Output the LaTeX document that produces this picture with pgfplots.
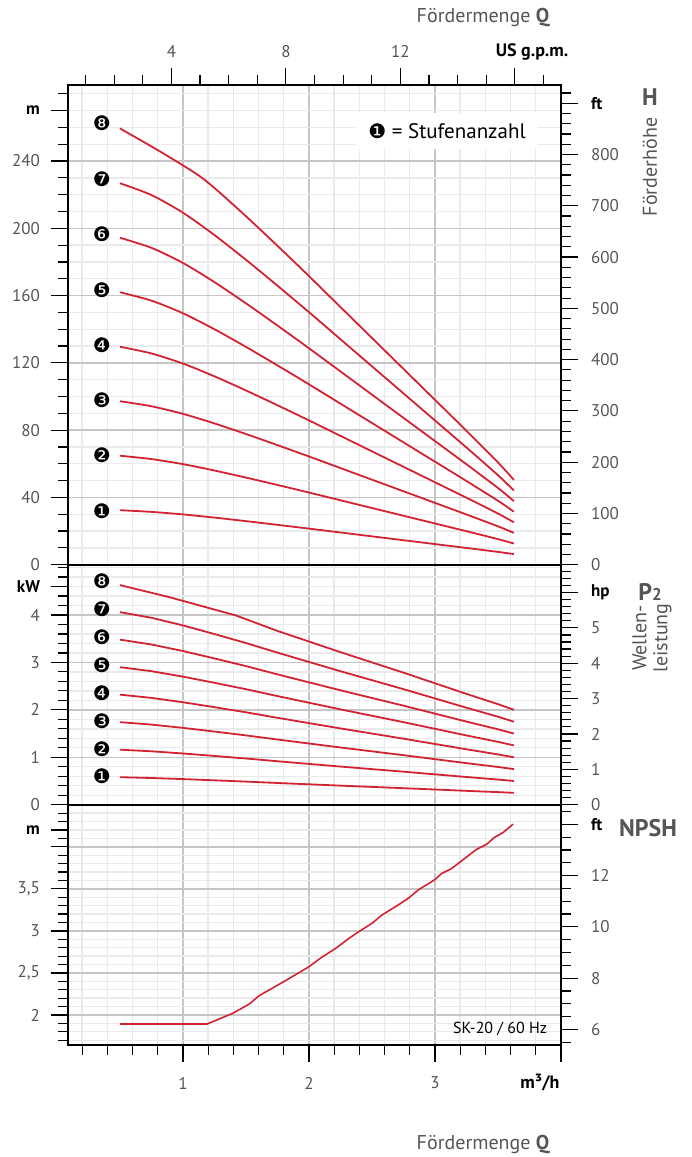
\documentclass[border=0pt]{standalone}
\usepackage{fontspec}
\setmainfont{PT Sans}
\newfontfamily\dejavu{DejaVu Sans}
\usepackage{pgfplots}
\pgfplotsset{compat=1.18}
\definecolor{curvered}{RGB}{210,35,50}
\definecolor{txtgray}{RGB}{85,85,85}
\definecolor{majgrid}{RGB}{198,198,198}
\definecolor{mingrid}{RGB}{234,234,234}
\newcommand{\unitlab}[1]{{\color{black}\bfseries #1}}
\tikzset{stage/.style={font=\dejavu\fontsize{10}{10}\selectfont}}
\pgfplotsset{
  common/.style={
    scale only axis, width=246.5pt, anchor=south west,
    tick align=outside,
    major tick length=8.5pt, minor tick length=5pt,
    every tick/.style={black, line width=0.6pt},
    axis line style={line width=1pt},
    tick label style={font=\fontsize{8.5}{10}\selectfont, text=txtgray},
    /pgf/number format/assume math mode=true,
  },
  panel/.style={
    common,
    xmin=0.088, xmax=4,
    grid=both,
    major grid style={draw=majgrid, line width=0.7pt},
    minor grid style={draw=mingrid, line width=0.7pt},
    xtick={1,2,3,4},
    minor xtick={0.2,0.4,0.6,0.8,1.2,1.4,1.6,1.8,2.2,2.4,2.6,2.8,3.2,3.4,3.6,3.8},
    ytick pos=left,
    yticklabel style={xshift=-2pt},
    extra y tick style={grid=none},
  },
  twin/.style={
    common,
    xmin=0.088, xmax=4,
    axis x line=none, axis y line*=right,
    yticklabel style={xshift=3pt, anchor=west},
  },
  curve/.style={curvered, line width=0.9pt, mark=none},
  hcurve/.style={curve, smooth, tension=0.45},
}
\begin{document}
\begin{tikzpicture}
\path[use as bounding box] (0,0) rectangle (345.5pt,578.5pt);

% ================= TOP PANEL: H =================
\begin{axis}[panel, height=240pt, at={(34pt,296.15pt)},
  ymin=0, ymax=285.4,
  xticklabels={}, xtick style={draw=none},
  ytick={0,40,80,120,160,200,240},
  yticklabels={0,40,80,120,160,200,240},
  minor ytick={10,20,30,50,60,70,90,100,110,130,140,150,170,180,190,210,220,230,250,260,270,280},
  extra y ticks={270}, extra y tick labels={\unitlab{m}},
]
\addplot[hcurve] coordinates {(0.5,32.4)(0.75,31.4)(1.0,29.9)(1.25,28.0)(1.5,25.9)(1.75,23.7)(2.0,21.45)(2.25,19.15)(2.5,16.85)(2.75,14.55)(3.0,12.25)(3.25,9.95)(3.5,7.6)(3.626,6.3)};
\addplot[hcurve] coordinates {(0.5,64.8)(0.75,62.8)(1.0,59.8)(1.25,56.0)(1.5,51.8)(1.75,47.4)(2.0,42.9)(2.25,38.3)(2.5,33.7)(2.75,29.1)(3.0,24.5)(3.25,19.9)(3.5,15.2)(3.626,12.6)};
\addplot[hcurve] coordinates {(0.5,97.2)(0.75,94.2)(1.0,89.7)(1.25,84.0)(1.5,77.7)(1.75,71.1)(2.0,64.35)(2.25,57.45)(2.5,50.55)(2.75,43.65)(3.0,36.75)(3.25,29.85)(3.5,22.8)(3.626,18.9)};
\addplot[hcurve] coordinates {(0.5,129.6)(0.75,125.6)(1.0,119.6)(1.25,112.0)(1.5,103.6)(1.75,94.8)(2.0,85.8)(2.25,76.6)(2.5,67.4)(2.75,58.2)(3.0,49.0)(3.25,39.8)(3.5,30.4)(3.626,25.2)};
\addplot[hcurve] coordinates {(0.5,162.0)(0.75,157.0)(1.0,149.5)(1.25,140.0)(1.5,129.5)(1.75,118.5)(2.0,107.25)(2.25,95.75)(2.5,84.25)(2.75,72.75)(3.0,61.25)(3.25,49.75)(3.5,38.0)(3.626,31.5)};
\addplot[hcurve] coordinates {(0.5,194.4)(0.75,188.4)(1.0,179.4)(1.25,168.0)(1.5,155.4)(1.75,142.2)(2.0,128.7)(2.25,114.9)(2.5,101.1)(2.75,87.3)(3.0,73.5)(3.25,59.7)(3.5,45.6)(3.626,37.8)};
\addplot[hcurve] coordinates {(0.5,226.8)(0.75,219.8)(1.0,209.3)(1.25,196.0)(1.5,181.3)(1.75,165.9)(2.0,150.15)(2.25,134.05)(2.5,117.95)(2.75,101.85)(3.0,85.75)(3.25,69.65)(3.5,53.2)(3.626,44.1)};
\addplot[hcurve] coordinates {(0.5,259.4)(0.8,246.5)(1.1,232.7)(1.25,224.0)(1.5,207.2)(1.75,189.6)(2.0,171.6)(2.25,153.2)(2.5,134.8)(2.75,116.4)(3.0,98.0)(3.25,79.6)(3.5,60.8)(3.626,50.4)};
\node[stage] at (axis cs:0.356,262.4) {❽};
\node[stage] at (axis cs:0.356,229.3) {❼};
\node[stage] at (axis cs:0.356,196.4) {❻};
\node[stage] at (axis cs:0.356,163.3) {❺};
\node[stage] at (axis cs:0.356,130.6) {❹};
\node[stage] at (axis cs:0.356,97.9) {❸};
\node[stage] at (axis cs:0.356,64.8) {❷};
\node[stage] at (axis cs:0.356,31.9) {❶};
\end{axis}
% right ft axis
\begin{axis}[twin, height=240pt, at={(34pt,296.15pt)},
  ymin=0, ymax=936.3,
  ytick={0,100,200,300,400,500,600,700,800},
  yticklabels={0,100,200,300,400,500,600,700,800},
  minor ytick={20,40,60,80,120,140,160,180,220,240,260,280,320,340,360,380,420,440,460,480,520,540,560,580,620,640,660,680,720,740,760,780,820,840,860,880,920},
  extra y ticks={900}, extra y tick labels={\unitlab{ft}},
]
\end{axis}
% top gpm axis
\begin{axis}[common, height=240pt, at={(34pt,296.15pt)},
  xmin=0.38745, xmax=17.6115, ymin=0, ymax=1,
  axis y line=none, axis x line*=top,
  xtick={4,8,12,16}, xticklabels={4,8,12,{}},
  minor xtick={1,2,3,5,6,7,9,10,11,13,14,15,17},
  xticklabel style={yshift=1.5pt},
]
\end{axis}

% ================= MIDDLE PANEL: P2 =================
\begin{axis}[panel, height=120pt, at={(34pt,176.15pt)},
  ymin=0, ymax=5.06,
  xticklabels={}, xtick style={draw=none},
  ytick={0,1,2,3,4}, yticklabels={0,1,2,3,4},
  minor ytick={0.2,0.4,0.6,0.8,1.2,1.4,1.6,1.8,2.2,2.4,2.6,2.8,3.2,3.4,3.6,3.8,4.2,4.4,4.6,4.8,5.0},
  extra y ticks={4.6}, extra y tick labels={\unitlab{kW}},
]
\addplot[curve] coordinates {(0.5,0.58)(0.75,0.563)(1.0,0.54)(1.25,0.514)(1.5,0.487)(1.75,0.458)(2.0,0.43)(2.25,0.402)(2.5,0.375)(2.75,0.348)(3.0,0.32)(3.25,0.292)(3.5,0.265)(3.626,0.25)};
\addplot[curve] coordinates {(0.5,1.16)(0.75,1.126)(1.0,1.08)(1.25,1.028)(1.5,0.974)(1.75,0.916)(2.0,0.86)(2.25,0.804)(2.5,0.75)(2.75,0.696)(3.0,0.64)(3.25,0.584)(3.5,0.53)(3.626,0.50)};
\addplot[curve] coordinates {(0.5,1.74)(0.75,1.689)(1.0,1.62)(1.25,1.542)(1.5,1.461)(1.75,1.374)(2.0,1.29)(2.25,1.206)(2.5,1.125)(2.75,1.044)(3.0,0.96)(3.25,0.876)(3.5,0.795)(3.626,0.75)};
\addplot[curve] coordinates {(0.5,2.32)(0.75,2.252)(1.0,2.16)(1.25,2.056)(1.5,1.948)(1.75,1.832)(2.0,1.72)(2.25,1.608)(2.5,1.5)(2.75,1.392)(3.0,1.28)(3.25,1.168)(3.5,1.06)(3.626,1.0)};
\addplot[curve] coordinates {(0.5,2.9)(0.75,2.815)(1.0,2.7)(1.25,2.57)(1.5,2.435)(1.75,2.29)(2.0,2.15)(2.25,2.01)(2.5,1.875)(2.75,1.74)(3.0,1.6)(3.25,1.46)(3.5,1.325)(3.626,1.25)};
\addplot[curve] coordinates {(0.5,3.48)(0.75,3.378)(1.0,3.24)(1.25,3.084)(1.5,2.922)(1.75,2.748)(2.0,2.58)(2.25,2.412)(2.5,2.25)(2.75,2.088)(3.0,1.92)(3.25,1.752)(3.5,1.59)(3.626,1.5)};
\addplot[curve] coordinates {(0.5,4.06)(0.75,3.941)(1.0,3.78)(1.25,3.598)(1.5,3.409)(1.75,3.206)(2.0,3.01)(2.25,2.814)(2.5,2.625)(2.75,2.436)(3.0,2.24)(3.25,2.044)(3.5,1.855)(3.626,1.75)};
\addplot[curve] coordinates {(0.5,4.63)(0.9,4.37)(1.42,3.99)(1.75,3.664)(2.0,3.44)(2.25,3.216)(2.5,3.0)(2.75,2.784)(3.0,2.56)(3.25,2.336)(3.5,2.12)(3.626,2.0)};
\node[stage] at (axis cs:0.356,4.72) {❽};
\node[stage] at (axis cs:0.356,4.13) {❼};
\node[stage] at (axis cs:0.356,3.54) {❻};
\node[stage] at (axis cs:0.356,2.95) {❺};
\node[stage] at (axis cs:0.356,2.36) {❹};
\node[stage] at (axis cs:0.356,1.77) {❸};
\node[stage] at (axis cs:0.356,1.18) {❷};
\node[stage] at (axis cs:0.356,0.59) {❶};
\end{axis}
\begin{axis}[twin, height=120pt, at={(34pt,176.15pt)},
  ymin=0, ymax=6.786,
  ytick={0,1,2,3,4,5}, yticklabels={0,1,2,3,4,5},
  minor ytick={0.2,0.4,0.6,0.8,1.2,1.4,1.6,1.8,2.2,2.4,2.6,2.8,3.2,3.4,3.6,3.8,4.2,4.4,4.6,4.8,5.2,5.4,5.6,5.8,6.2,6.4,6.6},
  extra y ticks={6}, extra y tick labels={\unitlab{hp}},
]
\end{axis}

% ================= BOTTOM PANEL: NPSH =================
\begin{axis}[panel, height=120.15pt, at={(34pt,56pt)},
  ymin=1.643, ymax=4.501,
  xtick pos=bottom,
  xticklabels={1,2,3,{}},
  xticklabel style={yshift=-4pt},
  ytick={2,2.5,3,3.5,4}, yticklabels={2,{2,5},3,{3,5},{}},
  minor ytick={1.7,1.8,1.9,2.1,2.2,2.3,2.4,2.6,2.7,2.8,2.9,3.1,3.2,3.3,3.4,3.6,3.7,3.8,3.9,4.1,4.2,4.3,4.4,4.5},
  extra y ticks={4.2}, extra y tick labels={\unitlab{m}},
]
\addplot[curve, line width=0.8pt] coordinates {(0.5,1.893)(1.193,1.893)(1.395,2.02)(1.527,2.13)(1.605,2.23)(1.816,2.41)(2.0,2.574)(2.105,2.69)(2.21,2.79)(2.316,2.91)(2.395,2.99)(2.5,3.09)(2.58,3.19)(2.71,3.31)(2.79,3.39)(2.87,3.49)(3.0,3.61)(3.05,3.68)(3.13,3.74)(3.2,3.82)(3.26,3.89)(3.33,3.97)(3.41,4.03)(3.47,4.11)(3.54,4.17)(3.62,4.27)};
\end{axis}
\begin{axis}[twin, height=120.15pt, at={(34pt,56pt)},
  ymin=5.3904, ymax=14.767,
  ytick={6,8,10,12}, yticklabels={6,8,10,12},
  minor ytick={5.5,6.5,7,7.5,8.5,9,9.5,10.5,11,11.5,12.5,13,13.5,14.5},
  extra y ticks={14}, extra y tick labels={\unitlab{ft}},
]
\end{axis}

% ================= TEXT =================
\node[anchor=east, font=\fontsize{10}{12}\selectfont, text=txtgray] at (278.5pt,569.5pt) {Fördermenge \textbf{Q}};
\node[font=\fontsize{9}{11}\selectfont\bfseries] at (266pt,552.5pt) {US g.p.m.};
\node[fill=white, inner xsep=6pt, inner ysep=5pt, font=\fontsize{10.5}{12}\selectfont] at (223.5pt,513pt) {{\dejavu\fontsize{10}{10}\selectfont ❶} = Stufenanzahl};
\node[font=\fontsize{12}{14}\selectfont\bfseries, text=txtgray] at (325pt,530.15pt) {H};
\node[rotate=90, font=\fontsize{10}{12}\selectfont, text=txtgray] at (325pt,495pt) {Förderhöhe};
\node[font=\fontsize{12}{14}\selectfont\bfseries, text=txtgray] at (325pt,282.5pt) {P{\fontsize{8.5}{9}\selectfont 2}};
\node[rotate=90, align=center, font=\fontsize{10}{10.5}\selectfont, text=txtgray] at (326pt,259.5pt) {Wellen-\\leistung};
\node[font=\fontsize{12}{14}\selectfont\bfseries, text=txtgray] at (324pt,164.5pt) {NPSH};
\node[font=\fontsize{8}{10}\selectfont] at (250pt,64pt) {SK-20 / 60 Hz};
\node[font=\fontsize{9}{11}\selectfont\bfseries] at (270pt,37pt) {m³/h};
\node[anchor=east, font=\fontsize{10}{12}\selectfont, text=txtgray] at (278.5pt,6pt) {Fördermenge \textbf{Q}};
\end{tikzpicture}
\end{document}
